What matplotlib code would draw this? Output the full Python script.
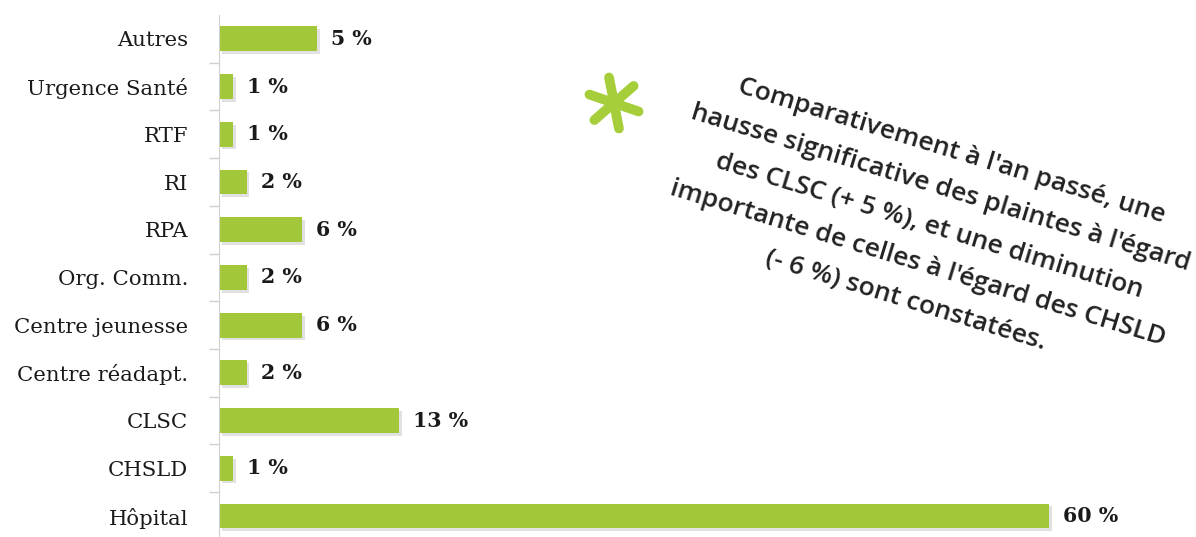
import numpy as np
import matplotlib
matplotlib.use('Agg')
import matplotlib.pyplot as plt
import matplotlib.patheffects as pe
from matplotlib.lines import Line2D

# Data (top to bottom)
categories = ['Autres', 'Urgence Santé', 'RTF', 'RI', 'RPA', 'Org. Comm.',
              'Centre jeunesse', 'Centre réadapt.', 'CLSC', 'CHSLD', 'Hôpital']
bar_lengths = [7.1, 1, 1, 2, 6, 2, 6, 2, 13, 1, 60]
value_labels = ['5 %', '1 %', '1 %', '2 %', '6 %', '2 %', '6 %', '2 %', '13 %', '1 %', '60 %']

green = '#a2c839'

fig = plt.figure(figsize=(11.96, 5.37), dpi=100)
ax = fig.add_axes([219 / 1196, 0, 1 - 219 / 1196, 1 - 15 / 537])

y = np.arange(len(categories))
bars = ax.barh(y, bar_lengths, height=0.52, color=green, zorder=2)
for b in bars:
    b.set_path_effects([pe.SimplePatchShadow(offset=(2, -2), shadow_rgbFace='#888888', alpha=0.25),
                        pe.Normal()])

for yi, w, lab in zip(y, bar_lengths, value_labels):
    ax.text(w + 1.0, yi, lab, va='center', ha='left', fontsize=14.8,
            fontweight='bold', family='DejaVu Serif', color='#1a1a1a')

ax.set_xlim(0, 70.6)
ax.set_ylim(10.94 - 0.5, -0.5)
ax.set_yticks(y)
ax.set_yticklabels(categories, family='DejaVu Serif', fontsize=15.3, color='#1a1a1a')
ax.tick_params(axis='y', which='major', length=0, pad=22)
ax.set_yticks(y[:-1] + 0.5, minor=True)
ax.tick_params(axis='y', which='minor', length=7, color='#d0d0d0', width=1)
ax.set_xticks([])
for s in ['top', 'right', 'bottom']:
    ax.spines[s].set_visible(False)
ax.spines['left'].set_color('#d0d0d0')

# Rotated note with green asterisk
note = ("Comparativement à l'an passé, une\n"
        "hausse significative des plaintes à l'égard\n"
        "des CLSC (+ 5 %), et une diminution\n"
        "importante de celles à l'égard des CHSLD\n"
        "(- 6 %) sont constatées.")
fig.text(929 / 1196, 1 - 226 / 537, note, rotation=-17, rotation_mode='anchor',
         ha='center', va='center', multialignment='center', fontsize=19,
         fontweight='semibold', family='Open Sans', color='#222222', linespacing=1.75)

cx, cy = 614, 103
arm = 26
for ang in [101, 161, 41]:
    a = np.deg2rad(ang)
    dx, dy = arm * np.cos(a), arm * np.sin(a)
    fig.add_artist(Line2D([(cx - dx) / 1196, (cx + dx) / 1196],
                          [1 - (cy + dy) / 537, 1 - (cy - dy) / 537],
                          color='#a6ce3a', linewidth=7, solid_capstyle='round',
                          transform=fig.transFigure))

fig.savefig('out.png', dpi=100)
